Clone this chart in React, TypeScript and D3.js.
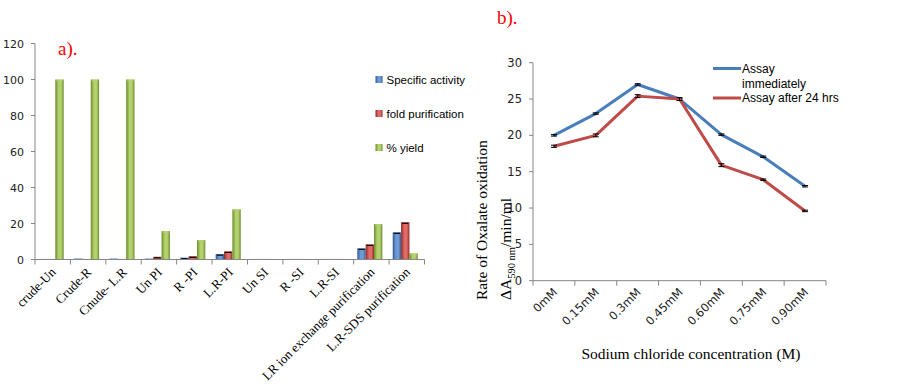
import * as d3 from 'd3';

// left chart: purification table
const stages = [
  'crude-Un', 'Crude-R', 'Cnude- L.R', 'Un PI', 'R -PI', 'L.R-PI',
  'Un SI', 'R -SI', 'L.R-SI', 'LR ion exchange purification', 'L.R-SDS  purification',
];
const specificActivity = [0.3, 0.5, 0.5, 0.5, 1.0, 3.0, 0.3, 0.3, 0.3, 6.2, 15.1];
const foldPurification = [0.3, 0.3, 0.3, 1.5, 1.8, 4.5, 0.3, 0.3, 0.3, 8.4, 20.7];
const percentYield = [100, 100, 100, 15.8, 10.8, 27.9, 0.3, 0.3, 0.3, 19.7, 3.4];
const barSeries = ['Specific activity', 'fold purification', '% yield'];
const leftTicks = [0, 20, 40, 60, 80, 100, 120];

// right chart: NaCl effect
const concentrations = ['0mM', '0.15mM', '0.3mM', '0.45mM', '0.60mM', '0.75mM', '0.90mM'];
const assayImmediate = [20, 23, 27, 25, 20.1, 17.05, 13];
const assayAfter24 = [18.5, 20, 25.4, 25, 15.9, 13.9, 9.6];
const errImmediate = [0.1, 0.1, 0.1, 0.1, 0.1, 0.1, 0.1];
const errAfter24 = [0.15, 0.2, 0.2, 0.2, 0.2, 0.1, 0.1];
const rightTicks = [0, 5, 10, 15, 20, 25, 30];
const lineSeries = ['Assay immediately', 'Assay after 24 hrs'];

const barColors = [
  { mid: '#6f9ad4', edge: '#2f5a96' },
  { mid: '#e06a66', edge: '#8c2a27' },
  { mid: '#b3d26e', edge: '#6b8a2c' },
];
const lineColors = ['#4a7ebb', '#be4b48'];

export default function App() {
  // left scales
  const xL = d3.scaleBand<string>().domain(stages).range([35, 424.5]);
  const xSub = d3.scaleBand<number>().domain([0, 1, 2]).range([0, xL.bandwidth()]).paddingOuter(0.62).align(0.35);
  const yL = d3.scaleLinear().domain([0, 120]).range([259.5, 43.5]);
  const barValues = [specificActivity, foldPurification, percentYield];

  // right scales
  const xR = d3.scaleBand<string>().domain(concentrations).range([533, 826]);
  const yR = d3.scaleLinear().domain([0, 30]).range([280.7, 62.7]);
  const lineVals = [assayImmediate, assayAfter24];
  const lineErr = [errImmediate, errAfter24];
  const line = d3.line<number>()
    .x((_, i) => (xR(concentrations[i]) ?? 0) + xR.bandwidth() / 2)
    .y(d => yR(d));

  const sans = 'DejaVu Sans, Verdana, sans-serif';
  const serif = 'Liberation Serif, Times New Roman, serif';
  const axisColor = '#868686';

  return (
    <svg width={900} height={386} style={{ position: 'absolute', left: 0, top: 0, background: '#fff' }}>
      <defs>
        {barColors.map((c, i) => (
          <linearGradient key={i} id={`bar${i}`} x1="0" x2="1" y1="0" y2="0">
            <stop offset="0%" stopColor={c.edge} />
            <stop offset="40%" stopColor={c.mid} />
            <stop offset="70%" stopColor={c.mid} />
            <stop offset="100%" stopColor={c.edge} />
          </linearGradient>
        ))}
      </defs>

      {/* ---------- a) ---------- */}
      <text x={58} y={55} fill="#ff0000" fontFamily={serif} fontSize={19}>a).</text>

      {leftTicks.map(t => (
        <g key={t}>
          <line x1={31} x2={35} y1={yL(t)} y2={yL(t)} stroke={axisColor} />
          <text x={24} y={yL(t) + 4} textAnchor="end" fontFamily={sans} fontSize={11} fill="#222">{t}</text>
        </g>
      ))}

      {stages.map((s, ci) => (
        <g key={s}>
          {barValues.map((vals, si) => {
            const x = (xL(s) ?? 0) + (xSub(si) ?? 0);
            const w = xSub.bandwidth();
            const y = yL(vals[ci]);
            return (
              <g key={si}>
                <rect x={x} y={y} width={w} height={yL(0) - y} fill={`url(#bar${si})`} />
                <rect x={x + 1} y={y} width={w - 2} height={Math.min(2, yL(0) - y)} fill={barColors[si].mid} opacity={0.7} />
                {si < 2 && vals[ci] > 0.8 && (
                  <line x1={x + 1} x2={x + w - 1} y1={y + 1} y2={y + 1} stroke="#000" strokeWidth={1.2} />
                )}
              </g>
            );
          })}
        </g>
      ))}

      <line x1={35} x2={35} y1={yL(120)} y2={yL(0)} stroke={axisColor} />
      <line x1={35} x2={424.5} y1={yL(0)} y2={yL(0)} stroke={axisColor} />
      {stages.map((s, i) => (
        <line key={i} x1={(xL(s) ?? 0)} x2={(xL(s) ?? 0)} y1={yL(0)} y2={yL(0) + 5} stroke={axisColor} />
      ))}
      <line x1={424.5} x2={424.5} y1={yL(0)} y2={yL(0) + 5} stroke={axisColor} />

      {stages.map(s => {
        const cx = (xL(s) ?? 0) + xL.bandwidth() / 2 + 4;
        return (
          <text key={s} transform={`translate(${cx},${273}) rotate(-45)`} textAnchor="end"
            fontFamily={serif} fontSize={13} fill="#000">{s}</text>
        );
      })}

      {barSeries.map((name, i) => (
        <g key={name} transform={`translate(375.5,${80 + i * 34})`}>
          <rect x={0} y={-4} width={7} height={7} fill={`url(#bar${i})`} />
          <text x={11} y={4} fontFamily="Liberation Sans, Arial, sans-serif" fontSize={11.5} fill="#000">{name}</text>
        </g>
      ))}

      {/* ---------- b) ---------- */}
      <text x={497} y={24} fill="#ff0000" fontFamily={serif} fontSize={19}>b).</text>

      {rightTicks.map(t => (
        <g key={t}>
          <line x1={529} x2={533} y1={yR(t)} y2={yR(t)} stroke={axisColor} />
          <text x={522} y={yR(t) + 4} textAnchor="end" fontFamily={sans} fontSize={11.5} fill="#222">{t}</text>
        </g>
      ))}
      <line x1={533} x2={533} y1={yR(30)} y2={yR(0)} stroke={axisColor} />
      <line x1={533} x2={826} y1={yR(0)} y2={yR(0)} stroke={axisColor} />
      {concentrations.map((c, i) => (
        <line key={i} x1={xR(c) ?? 0} x2={xR(c) ?? 0} y1={yR(0)} y2={yR(0) + 5} stroke={axisColor} />
      ))}
      <line x1={826} x2={826} y1={yR(0)} y2={yR(0) + 5} stroke={axisColor} />

      {lineVals.map((vals, si) => (
        <g key={si}>
          <path d={line(vals) ?? ''} fill="none" stroke={lineColors[si]} strokeWidth={3} strokeLinejoin="round" />
          {vals.map((v, i) => {
            const cx = (xR(concentrations[i]) ?? 0) + xR.bandwidth() / 2;
            const e = lineErr[si][i];
            return (
              <g key={i} stroke="#000" strokeWidth={1}>
                <line x1={cx} x2={cx} y1={yR(v + e)} y2={yR(v - e)} />
                <line x1={cx - 3} x2={cx + 3} y1={yR(v + e)} y2={yR(v + e)} />
                <line x1={cx - 3} x2={cx + 3} y1={yR(v - e)} y2={yR(v - e)} />
              </g>
            );
          })}
        </g>
      ))}

      {concentrations.map(c => {
        const cx = (xR(c) ?? 0) + xR.bandwidth() / 2 + 4;
        return (
          <text key={c} transform={`translate(${cx},${293}) rotate(-45)`} textAnchor="end"
            fontFamily={sans} fontSize={11.5} fill="#222">{c}</text>
        );
      })}

      <g fontFamily="Liberation Sans, Arial, sans-serif" fontSize={12} fill="#000">
        <line x1={713} x2={741} y1={68.5} y2={68.5} stroke={lineColors[0]} strokeWidth={3} />
        <text x={742} y={72.5}>Assay</text>
        <text x={742} y={87.5}>immediately</text>
        <line x1={713} x2={741} y1={98} y2={98} stroke={lineColors[1]} strokeWidth={3} />
        <text x={742} y={102}>{lineSeries[1]}</text>
      </g>

      <text transform="translate(487,300) rotate(-90)" fontFamily={serif} fontSize={15.5} fill="#000">
        Rate of Oxalate oxidation
      </text>
      <text transform="translate(511,300) rotate(-90)" fontFamily={serif} fontSize={15.5} fill="#000">
        ΔA<tspan fontSize={10.5} dy={4}>590 nm</tspan><tspan dy={-4}>/min/ml</tspan>
      </text>

      <text x={691} y={359} textAnchor="middle" fontFamily={serif} fontSize={15.5} fill="#000">
        Sodium chloride concentration (M)
      </text>
    </svg>
  );
}
